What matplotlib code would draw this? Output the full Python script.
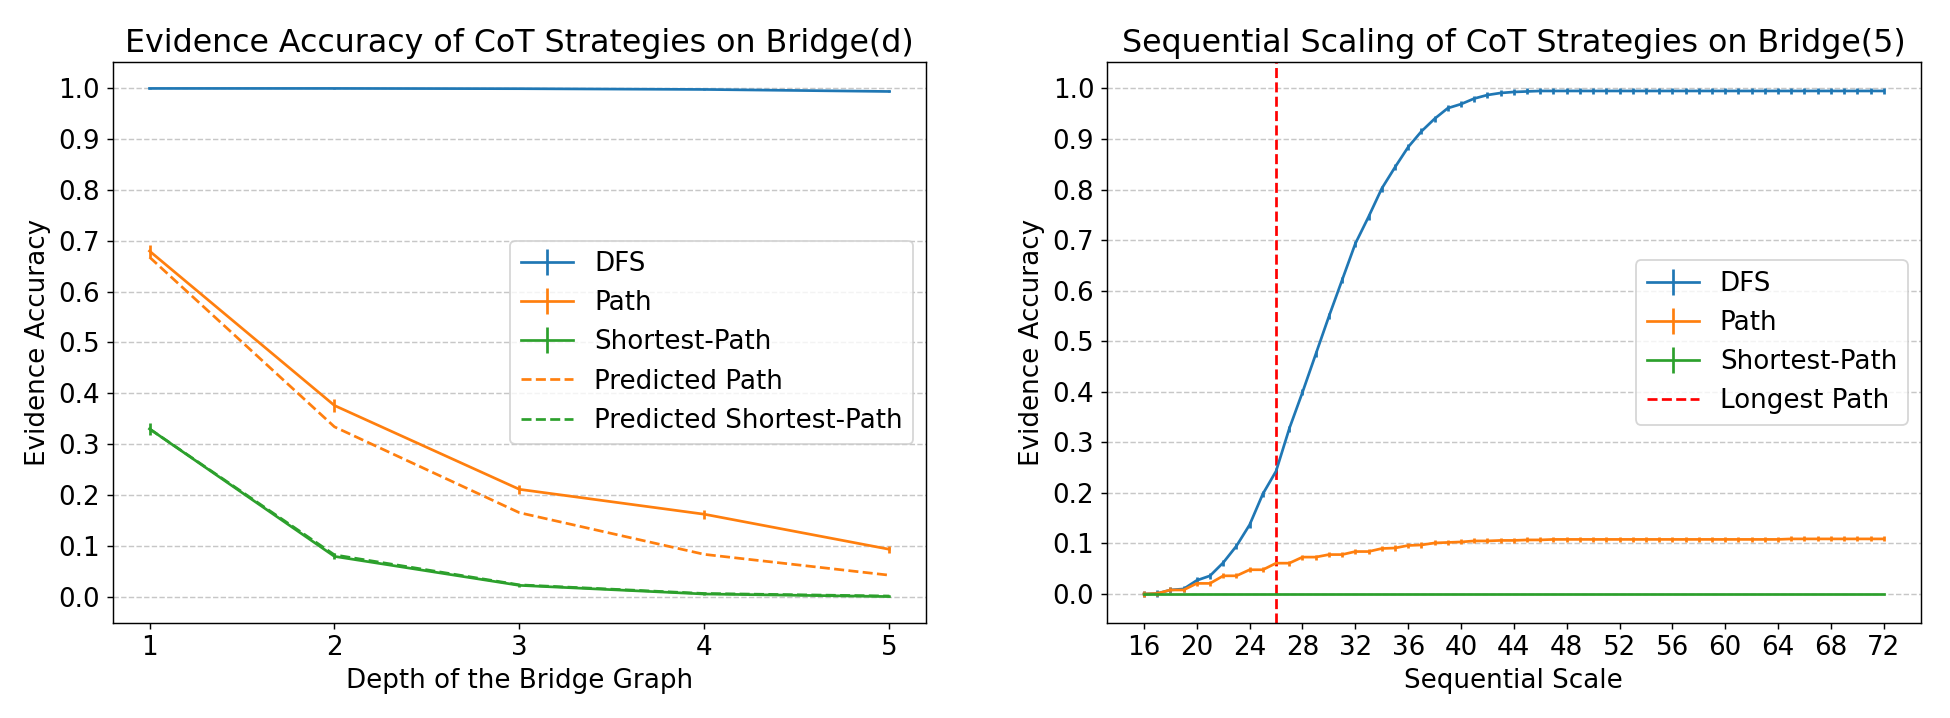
import numpy as np
import matplotlib
matplotlib.use("Agg")
import matplotlib.pyplot as plt

# ---------------- Left panel data ----------------
depths = [1, 2, 3, 4, 5]
dfs_depth = [1.000, 1.000, 0.9995, 0.998, 0.994]
dfs_depth_err = [0.001, 0.001, 0.001, 0.001, 0.002]
path_depth = [0.680, 0.376, 0.211, 0.162, 0.093]
path_depth_err = [0.011, 0.012, 0.009, 0.009, 0.007]
sp_depth = [0.330, 0.079, 0.022, 0.005, 0.000]
sp_depth_err = [0.012, 0.006, 0.003, 0.002, 0.001]
pred_path_depth = [0.668, 0.334, 0.165, 0.083, 0.042]
pred_sp_depth = [0.330, 0.082, 0.023, 0.006, 0.001]

# ---------------- Right panel data ----------------
scales = list(range(16, 73))
dfs_scale = [0.000, 0.001, 0.008, 0.010, 0.027, 0.036, 0.062, 0.095, 0.137, 0.198,
             0.243, 0.327, 0.399, 0.474, 0.549, 0.621, 0.693, 0.746, 0.802, 0.844,
             0.884, 0.915, 0.940, 0.961, 0.969, 0.980, 0.987, 0.991, 0.993, 0.994,
             0.995, 0.995, 0.995, 0.995, 0.995, 0.995, 0.995, 0.995, 0.995, 0.995,
             0.995, 0.995, 0.995, 0.995, 0.995, 0.995, 0.995, 0.995, 0.995, 0.995,
             0.995, 0.995, 0.995, 0.995, 0.995, 0.995, 0.995]
path_scale = [0.000, 0.001, 0.008, 0.008, 0.021, 0.021, 0.036, 0.036, 0.048, 0.048,
              0.061, 0.061, 0.073, 0.073, 0.078, 0.078, 0.084, 0.084, 0.090, 0.091,
              0.096, 0.097, 0.101, 0.102, 0.103, 0.105, 0.105, 0.106, 0.106, 0.107,
              0.107, 0.108, 0.108, 0.108, 0.108, 0.108, 0.108, 0.108, 0.108, 0.108,
              0.108, 0.108, 0.108, 0.108, 0.108, 0.108, 0.108, 0.108, 0.108, 0.109,
              0.109, 0.109, 0.109, 0.109, 0.109, 0.109, 0.109]
sp_scale = [0.0] * len(scales)
dfs_scale_err = [0.006] * len(scales)
path_scale_err = [0.005] * len(scales)
sp_scale_err = [0.0] * len(scales)
longest_path = 26
right_xticks = list(range(16, 73, 4))

C_BLUE, C_ORANGE, C_GREEN = "#1f77b4", "#ff7f0e", "#2ca02c"
TICK_FS, LABEL_FS, TITLE_FS, LEG_FS = 14.5, 14.5, 17.5, 14.5

plt.rcParams["font.family"] = "DejaVu Sans"
fig, (ax1, ax2) = plt.subplots(1, 2, figsize=(15, 718 / 130), dpi=130)
fig.subplots_adjust(left=0.0577, right=0.985, bottom=0.133, top=0.913, wspace=0.222)

# Left
h1 = ax1.errorbar(depths, dfs_depth, yerr=dfs_depth_err, color=C_BLUE, label="DFS")
h2 = ax1.errorbar(depths, path_depth, yerr=path_depth_err, color=C_ORANGE, label="Path")
h3 = ax1.errorbar(depths, sp_depth, yerr=sp_depth_err, color=C_GREEN, label="Shortest-Path")
h4, = ax1.plot(depths, pred_path_depth, "--", color=C_ORANGE, label="Predicted Path")
h5, = ax1.plot(depths, pred_sp_depth, "--", color=C_GREEN, label="Predicted Shortest-Path")
ax1.set_title("Evidence Accuracy of CoT Strategies on Bridge(d)", fontsize=TITLE_FS)
ax1.set_xlabel("Depth of the Bridge Graph", fontsize=LABEL_FS)
ax1.set_ylabel("Evidence Accuracy", fontsize=LABEL_FS)
ax1.set_xticks(depths)
ax1.set_yticks(np.arange(0, 1.01, 0.1))
ax1.tick_params(labelsize=TICK_FS)
ax1.grid(axis="y", linestyle="--", alpha=0.7)
ax1.legend(handles=[h1, h2, h3, h4, h5], loc="center right", fontsize=LEG_FS)

# Right
g1 = ax2.errorbar(scales, dfs_scale, yerr=dfs_scale_err, color=C_BLUE, label="DFS")
g2 = ax2.errorbar(scales, path_scale, yerr=path_scale_err, color=C_ORANGE, label="Path")
g3 = ax2.errorbar(scales, sp_scale, yerr=sp_scale_err, color=C_GREEN, label="Shortest-Path")
g4 = ax2.axvline(longest_path, color="red", linestyle="--", label="Longest Path")
ax2.set_title("Sequential Scaling of CoT Strategies on Bridge(5)", fontsize=TITLE_FS)
ax2.set_xlabel("Sequential Scale", fontsize=LABEL_FS)
ax2.set_ylabel("Evidence Accuracy", fontsize=LABEL_FS)
ax2.set_xticks(right_xticks)
ax2.set_yticks(np.arange(0, 1.01, 0.1))
ax2.tick_params(labelsize=TICK_FS)
ax2.grid(axis="y", linestyle="--", alpha=0.7)
ax2.legend(handles=[g1, g2, g3, g4], loc="center right", fontsize=LEG_FS)

fig.savefig("out.png", dpi=130)
